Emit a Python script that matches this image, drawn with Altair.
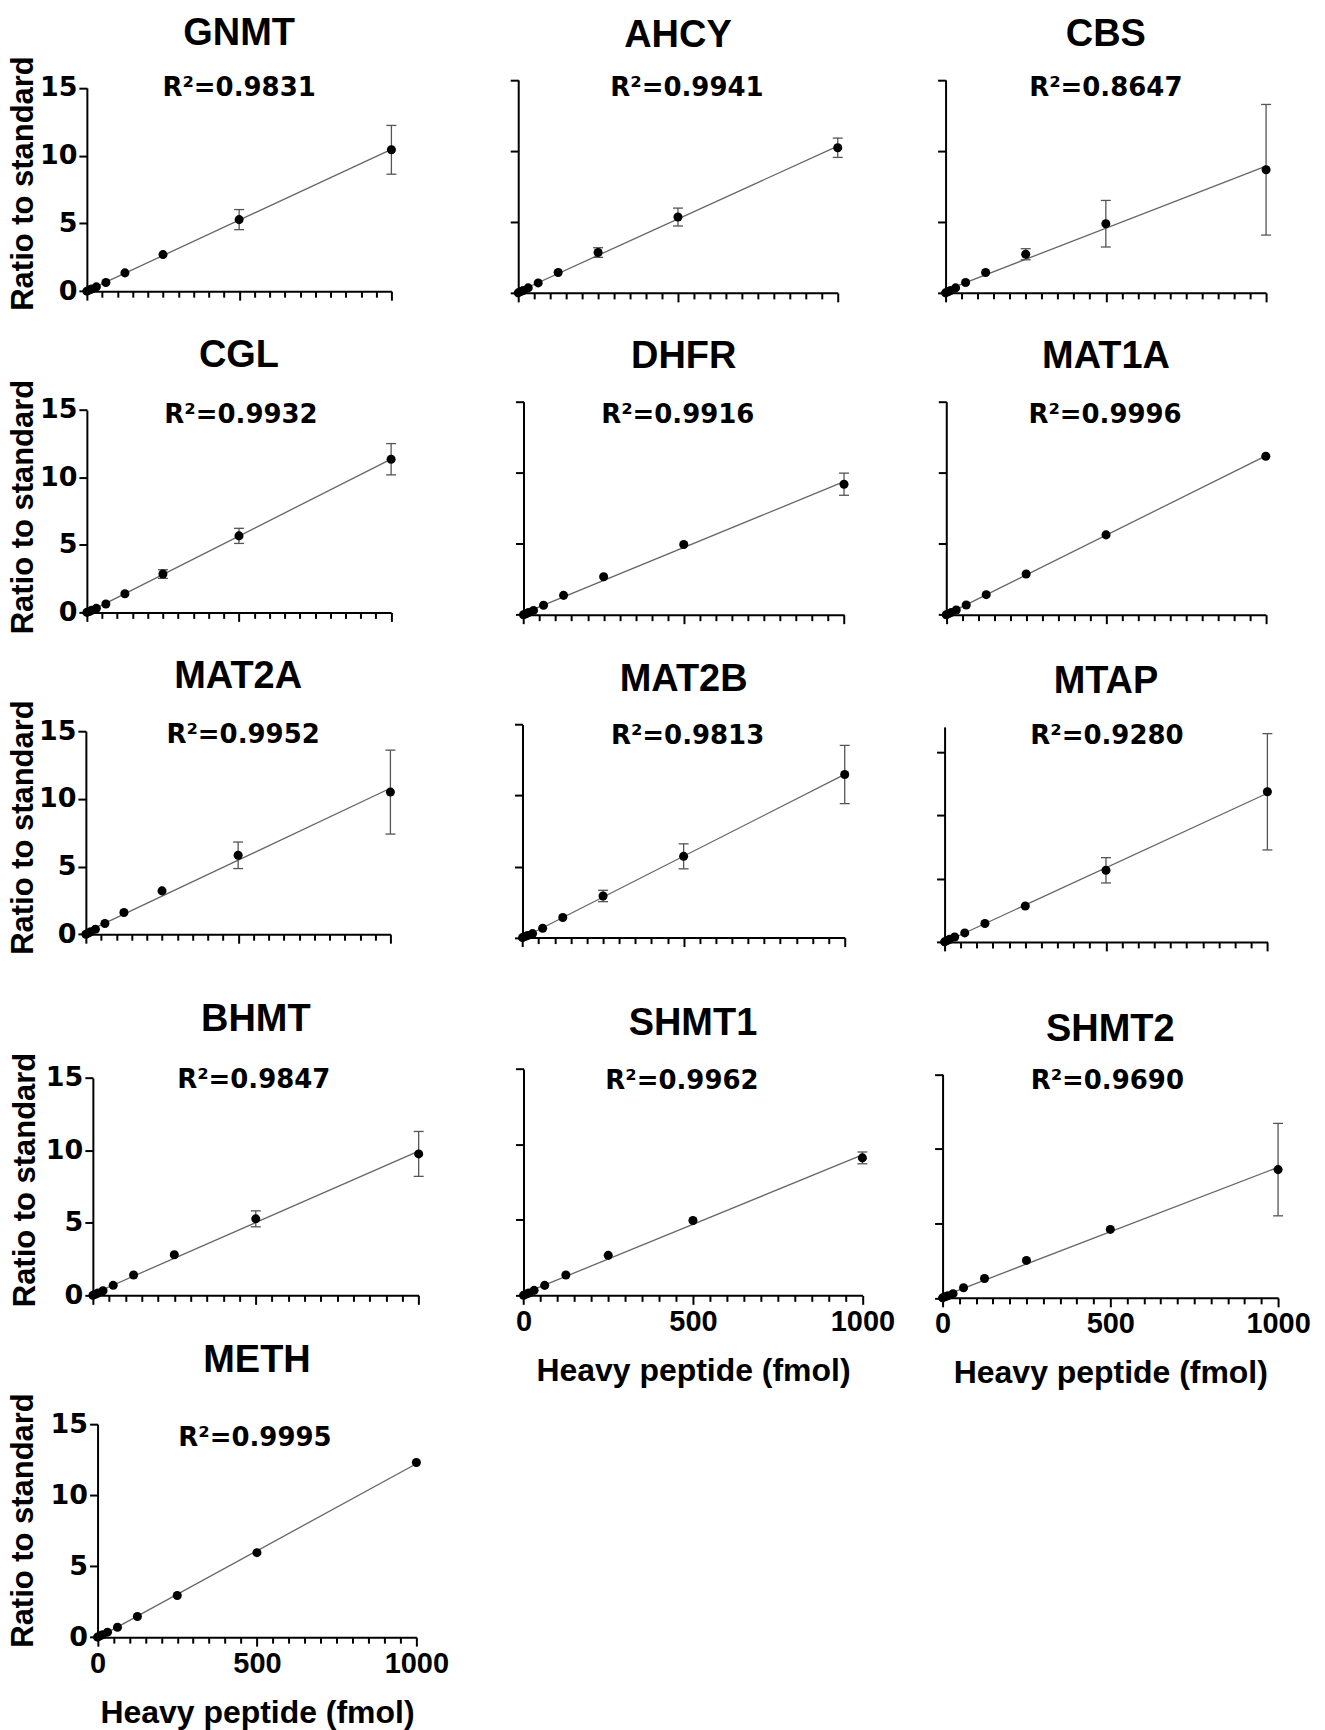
import altair as alt
import pandas as pd

# ---------------- data ----------------
proteins = ["GNMT", "AHCY", "CBS", "CGL", "DHFR", "MAT1A", "MAT2A",
            "MAT2B", "MTAP", "BHMT", "SHMT1", "SHMT2", "METH"]
r_squared = ["0.9831", "0.9941", "0.8647", "0.9932", "0.9916", "0.9996", "0.9952",
             "0.9813", "0.9280", "0.9847", "0.9962", "0.9690", "0.9995"]
heavy_fmol = [0, 7.8125, 15.625, 31.25, 62.5, 125, 250, 500, 1000]

gnmt_mean = [0.0, 0.08, 0.16, 0.32, 0.64, 1.35, 2.70, 5.28, 10.43]
gnmt_sd = [0, 0, 0, 0, 0, 0, 0, 0.74, 1.80]
ahcy_mean = [0.0, 0.09, 0.17, 0.35, 0.70, 1.43, 2.84, 5.34, 10.22]
ahcy_sd = [0, 0, 0, 0, 0, 0, 0.34, 0.63, 0.68]
cbs_mean = [0.0, 0.08, 0.17, 0.35, 0.73, 1.43, 2.72, 4.87, 8.67]
cbs_sd = [0, 0, 0, 0, 0, 0, 0.39, 1.64, 4.60]
cgl_mean = [0.0, 0.07, 0.15, 0.30, 0.62, 1.38, 2.84, 5.67, 11.35]
cgl_sd = [0, 0, 0, 0, 0, 0, 0.32, 0.56, 1.16]
dhfr_mean = [0.0, 0.07, 0.15, 0.30, 0.66, 1.36, 2.67, 4.94, 9.19]
dhfr_sd = [0, 0, 0, 0, 0, 0, 0, 0, 0.78]
mat1a_mean = [0.0, 0.08, 0.16, 0.33, 0.68, 1.41, 2.86, 5.62, 11.16]
mat1a_sd = [0, 0, 0, 0, 0, 0, 0, 0, 0]
mat2a_mean = [0.0, 0.09, 0.18, 0.37, 0.79, 1.60, 3.20, 5.83, 10.50]
mat2a_sd = [0, 0, 0, 0, 0, 0, 0, 0.98, 3.10]
mat2b_mean = [0.0, 0.07, 0.14, 0.28, 0.66, 1.41, 2.93, 5.72, 11.48]
mat2b_sd = [0, 0, 0, 0, 0, 0, 0.40, 0.88, 2.05]
mtap_mean = [0.0, 0.10, 0.20, 0.39, 0.71, 1.45, 2.84, 5.66, 11.87]
mtap_sd = [0, 0, 0, 0, 0, 0, 0, 1.00, 4.60]
bhmt_mean = [0.0, 0.08, 0.16, 0.32, 0.69, 1.40, 2.80, 5.28, 9.76]
bhmt_sd = [0, 0, 0, 0, 0, 0, 0, 0.55, 1.55]
shmt1_mean = [0.0, 0.08, 0.16, 0.33, 0.66, 1.35, 2.65, 4.96, 9.11]
shmt1_sd = [0, 0, 0, 0, 0, 0, 0, 0, 0.39]
shmt2_mean = [0.0, 0.07, 0.14, 0.28, 0.68, 1.30, 2.51, 4.59, 8.60]
shmt2_sd = [0, 0, 0, 0, 0, 0, 0, 0, 3.10]
meth_mean = [0.0, 0.09, 0.17, 0.35, 0.70, 1.45, 2.93, 5.95, 12.30]
meth_sd = [0, 0, 0, 0, 0, 0, 0, 0, 0]

y_ticks = [0, 5, 10, 15]
x_ticks = list(range(0, 1001, 50))

means = {"GNMT": gnmt_mean, "AHCY": ahcy_mean, "CBS": cbs_mean, "CGL": cgl_mean,
         "DHFR": dhfr_mean, "MAT1A": mat1a_mean, "MAT2A": mat2a_mean, "MAT2B": mat2b_mean,
         "MTAP": mtap_mean, "BHMT": bhmt_mean, "SHMT1": shmt1_mean, "SHMT2": shmt2_mean,
         "METH": meth_mean}
sds = {"GNMT": gnmt_sd, "AHCY": ahcy_sd, "CBS": cbs_sd, "CGL": cgl_sd,
       "DHFR": dhfr_sd, "MAT1A": mat1a_sd, "MAT2A": mat2a_sd, "MAT2B": mat2b_sd,
       "MTAP": mtap_sd, "BHMT": bhmt_sd, "SHMT1": shmt1_sd, "SHMT2": shmt2_sd,
       "METH": meth_sd}
y_max = {"MTAP": 17}

# ---------------- layout (cell geometry, pixels) ----------------
col_w = [440, 440, 445]
row_h = [320, 320, 320, 360, 410]
LAYOUT = {
    "GNMT":  dict(xa=86, xb=391, ya=289.3, yb=85.7, ty=42.7, ry=94.3, rdx=0, ytx=38.5, yty=181),
    "AHCY":  dict(xa=78, xb=398, ya=291, yb=77.7, ty=45, ry=94, rdx=9),
    "CBS":   dict(xa=66, xb=387, ya=291, yb=77.7, ty=44, ry=94, rdx=0),
    "CGL":   dict(xa=86, xb=390.7, ya=291, yb=88.3, ty=45, ry=101.7, rdx=2, ytx=38.5, yty=185),
    "DHFR":  dict(xa=83.3, xb=404.3, ya=293.3, yb=80, ty=46.7, ry=101, rdx=-6),
    "MAT1A": dict(xa=66.7, xb=386.7, ya=293.3, yb=80, ty=46.7, ry=101, rdx=-1),
    "MAT2A": dict(xa=85, xb=390, ya=293.3, yb=90, ty=46.7, ry=102.3, rdx=5, ytx=38.5, yty=186),
    "MAT2B": dict(xa=82.3, xb=405, ya=296.7, yb=83.3, ty=50, ry=103.3, rdx=4),
    "MTAP":  dict(xa=65, xb=388.3, ya=301, yb=85.7, ty=51.7, ry=103.3, rdx=1),
    "BHMT":  dict(xa=92, xb=418.3, ya=335, yb=117.3, ty=70.7, ry=127.3, rdx=-2, ytx=40.5, yty=219),
    "SHMT1": dict(xa=83.3, xb=422.7, ya=335, yb=108.3, ty=74, ry=128.3, rdx=-11),
    "SHMT2": dict(xa=63, xb=399, ya=337.5, yb=113.5, ty=80, ry=128, rdx=-3),
    "METH":  dict(xa=96.7, xb=416, ya=317.3, yb=104, ty=51.7, ry=126, rdx=-2, ytx=38.5, yty=200),
}
x_labelled = {"SHMT1", "SHMT2", "METH"}

AX = dict(grid=False, domainWidth=2, tickWidth=2, domainColor="black", tickColor="black",
          labelColor="black", titleColor="black")


def make_panel(i, name):
    row, col = divmod(i, 3)
    W, H = col_w[col], row_h[row]
    L = LAYOUT[name]
    top = y_max.get(name, 15)

    df = pd.DataFrame({"x": heavy_fmol, "y": means[name], "sd": sds[name]})
    df["lo"] = df["y"] - df["sd"]
    df["hi"] = df["y"] + df["sd"]

    xs = alt.Scale(domain=[0, 1000], range=[L["xa"], L["xb"]], nice=False, zero=False)
    ys = alt.Scale(domain=[0, top], range=[L["ya"], L["yb"]], nice=False, zero=False)

    xkw = dict(AX, values=x_ticks, offset=L["ya"] - H,
               tickSize={"condition": {"test": "datum.value % 500 === 0", "value": 9}, "value": 6})
    if name in x_labelled:
        xkw.update(labels=True, labelExpr="datum.value % 500 === 0 ? datum.label : ''",
                   format="d", labelFlush=False, labelOverlap=False,
                   labelFont="Liberation Sans", labelFontSize=29, labelFontWeight="bold",
                   labelPadding=3,
                   title="Heavy peptide (fmol)", titleFont="Liberation Sans", titleFontSize=32,
                   titleFontWeight="bold", titleY=60)
    else:
        xkw.update(labels=False, title=None)
    xaxis = alt.Axis(**xkw)

    ykw = dict(AX, values=y_ticks, offset=-L["xa"], tickSize=8)
    if col == 0:
        ykw.update(labels=True, labelFont="DejaVu Sans", labelFontSize=27, labelFontWeight="bold",
                   labelPadding=2,
                   title="Ratio to standard", titleFont="Liberation Sans", titleFontSize=31,
                   titleFontWeight="bold", titleX=L["ytx"] - L["xa"], titleY=L["yty"])
    else:
        ykw.update(labels=False, title=None)
    yaxis = alt.Axis(**ykw)

    X = lambda f: alt.X(f, type="quantitative", scale=xs, axis=xaxis)
    Y = lambda f: alt.Y(f, type="quantitative", scale=ys, axis=yaxis)

    base = alt.Chart(df)
    fit = base.transform_regression("x", "y", extent=[0, 1000]).mark_line(
        color="#666666", strokeWidth=1.3).encode(x=X("x"), y=Y("y"))
    errs = base.transform_filter("datum.sd > 0")
    bars = errs.mark_rule(color="#555555", strokeWidth=1.3).encode(
        x=X("x"), y=Y("lo"), y2="hi:Q")
    cap_lo = errs.mark_tick(orient="horizontal", size=10, thickness=1.3, color="#555555",
                            opacity=1).encode(x=X("x"), y=Y("lo"))
    cap_hi = errs.mark_tick(orient="horizontal", size=10, thickness=1.3, color="#555555",
                            opacity=1).encode(x=X("x"), y=Y("hi"))
    pts = base.mark_circle(size=82, color="black", opacity=1).encode(x=X("x"), y=Y("y"))

    label_df = pd.DataFrame({"title": [name], "r2": ["R\u00b2=" + r_squared[i]]})
    lab = alt.Chart(label_df)
    xd = alt.XDatum(500, type="quantitative", scale=xs, axis=xaxis)
    title = lab.mark_text(font="Liberation Sans", fontWeight="bold", fontSize=38,
                          align="center", baseline="alphabetic", color="black").encode(
        x=xd, y=alt.value(L["ty"]), text="title:N")
    r2 = lab.mark_text(font="DejaVu Sans", fontWeight="bold", fontSize=26,
                       align="center", baseline="alphabetic", color="black",
                       dx=L["rdx"]).encode(
        x=xd, y=alt.value(L["ry"]), text="r2:N")

    return alt.layer(fit, bars, cap_lo, cap_hi, pts, title, r2).properties(width=W, height=H)


panels = [make_panel(i, n) for i, n in enumerate(proteins)]

chart = alt.concat(*panels, columns=3, spacing=0, bounds="flush", align="each").properties(
    padding=0, background="white",
    autosize=alt.AutoSizeParams(type="pad"),
).configure_view(stroke="transparent")

chart.save("out.html", embed_options={"renderer": "svg", "actions": False})
